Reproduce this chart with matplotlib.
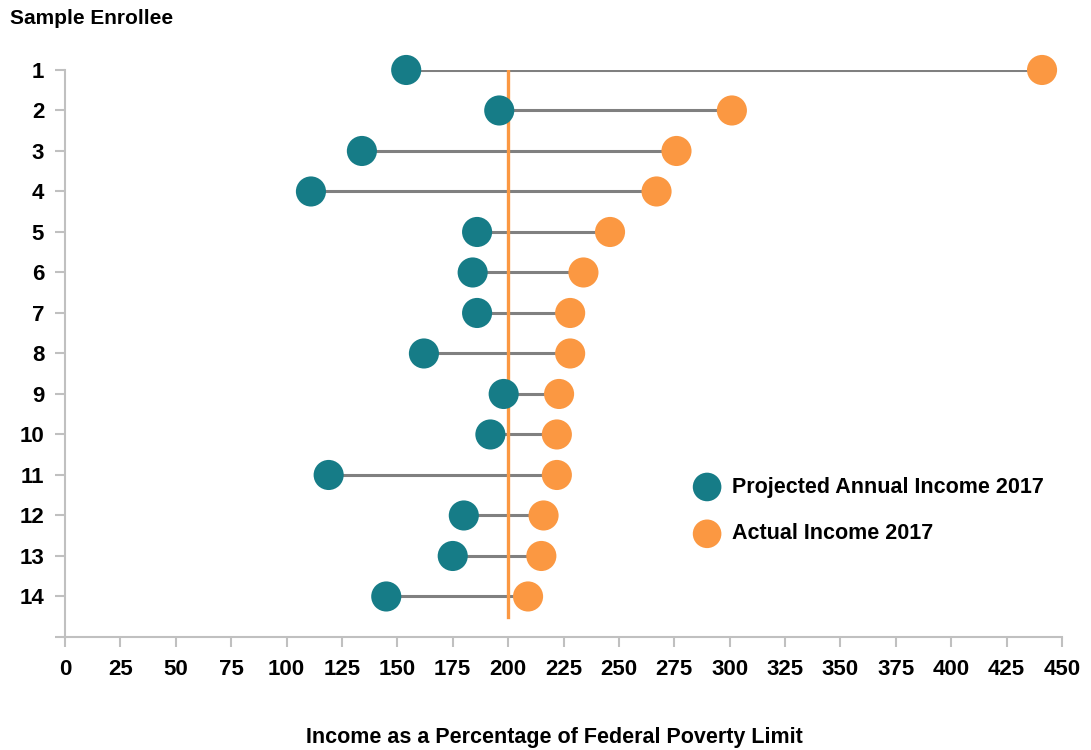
import matplotlib.pyplot as plt
from matplotlib import font_manager

enrollees = list(range(1, 15))
projected = [154, 196, 134, 111, 186, 184, 186, 162, 198, 192, 119, 180, 175, 145]
actual = [441, 301, 276, 267, 246, 234, 228, 228, 223, 222, 222, 216, 215, 209]
fpl_line = 200
xticks = list(range(0, 451, 25))

teal = '#167C87'
orange = '#FB9842'

names = {f.name for f in font_manager.fontManager.ttflist}
fam = 'Liberation Sans Narrow' if 'Liberation Sans Narrow' in names else 'Liberation Sans'
plt.rcParams['font.family'] = [fam, 'DejaVu Sans']
plt.rcParams['font.weight'] = 'bold'

fig = plt.figure(figsize=(10.91, 7.5), dpi=100)
ax = fig.add_axes([0.0596, 0.1507, 0.9138, 0.756])

for y, a, b in zip(enrollees, projected, actual):
    ax.plot([a, b], [y, y], color='#808080', lw=2.2, zorder=2, solid_capstyle='butt')

ax.plot([fpl_line, fpl_line], [1, 14.5], color=orange, lw=2.4, zorder=3)

ax.scatter(projected, enrollees, s=470, color=teal, zorder=4, clip_on=False,
           label='Projected Annual Income 2017', edgecolors='none')
ax.scatter(actual, enrollees, s=470, color=orange, zorder=4, clip_on=False,
           label='Actual Income 2017', edgecolors='none')

ax.set_xlim(0, 450)
ax.set_ylim(15, 1)
ax.set_xticks(xticks)
ax.set_xticklabels([str(t) for t in xticks])
ax.set_yticks(list(range(1, 16)))
ax.set_yticklabels([str(i) for i in enrollees] + [''])

for s in ['top', 'right']:
    ax.spines[s].set_visible(False)
for s in ['left', 'bottom']:
    ax.spines[s].set_color('#C0C0C0')
    ax.spines[s].set_linewidth(1.5)
ax.tick_params(axis='both', colors='#C0C0C0', width=1.5, length=7,
               labelcolor='black', labelsize=16)
ax.tick_params(axis='x', pad=9)
ax.tick_params(axis='y', pad=8)

fig.text(0.009, 0.976, 'Sample Enrollee', fontsize=15, fontweight='bold', va='center')
fig.text(0.508, 0.017, 'Income as a Percentage of Federal Poverty Limit', fontsize=15.5,
         fontweight='bold', ha='center', va='center')

ax.legend(loc='center left', bbox_to_anchor=(0.603, 0.223), frameon=False, fontsize=15.5,
          handletextpad=0.15, labelspacing=1.2, markerscale=0.95, scatterpoints=1)

fig.savefig('out.png', dpi=100)
